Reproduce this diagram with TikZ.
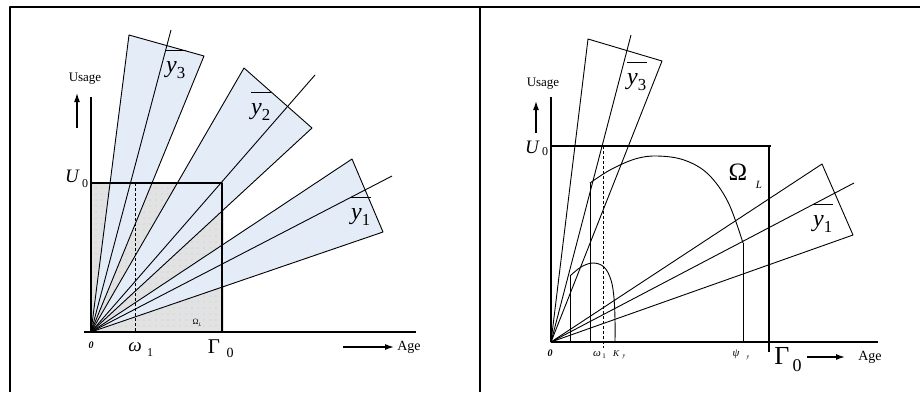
\documentclass[tikz,border=0pt]{standalone}
\usepackage{fontspec}
\setmainfont{Liberation Serif}
\usepackage{amsmath}
\usetikzlibrary{arrows.meta,patterns.meta}
\definecolor{wedgeblue}{HTML}{E4ECF8}
\definecolor{areagray}{HTML}{E2E2E2}
\definecolor{dotblue}{HTML}{B5C9E6}
\newcommand{\fs}[1]{\fontsize{#1}{#1}\selectfont}
\newcommand{\ybarlab}[1]{$\overline{\rule{0pt}{0.78em}\text{\itshape y}_{\text{#1}}}$}
\begin{document}
\begin{tikzpicture}[x=1pt,y=-1pt,line join=round,
  frameline/.style={line width=2pt},
  axisline/.style={line width=1.5pt},
  ray/.style={line width=0.9pt},
  boxline/.style={line width=1.2pt},
  dashline/.style={line width=0.8pt,dash pattern=on 3pt off 2pt},
  lab/.style={inner sep=0pt,anchor=center},
  arr/.style={line width=1.3pt,-{Latex[length=9pt,width=6pt]}},
  wedge/.style={ray,fill=wedgeblue}]
\useasboundingbox (0,0) rectangle (920,392);
% frame
\draw[frameline] (10,392) -- (10,7) -- (920,7);
\draw[frameline] (480,7) -- (480,392);

% ================= left panel =================
\coordinate (OL) at (91,332);
\fill[areagray] (91,183) rectangle (224,332);
\fill[pattern={Dots[distance=6pt,radius=0.6pt]},pattern color=dotblue] (91,183) rectangle (224,332);
\draw[wedge] (OL) -- (129,35) -- (204,56) -- cycle;
\draw[wedge] (OL) -- (244,68) -- (312,128) -- cycle;
\draw[wedge] (OL) -- (352,159) -- (383,232) -- cycle;
\coordinate (c3L) at (171,30);
\coordinate (c2L) at (315,75);
\coordinate (c1L) at (392,176);
\draw[ray] (OL) -- (c3L);
\draw[ray] (OL) -- (c2L);
\draw[ray] (OL) -- (c1L);
\draw[boxline] (91,183) -- (222,183) -- (222,332);
\draw[dashline] (135,183) -- (135,332);
\draw[axisline] (84,332) -- (416,332);
\draw[axisline] (OL) -- (91,97);
\coordinate (upLa) at (77,128); \coordinate (upLb) at (77,93);
\draw[arr] (upLa) -- (upLb);
\coordinate (agLa) at (343,347); \coordinate (agLb) at (394,347);
\draw[arr] (agLa) -- (agLb);

\node[lab] (usageL) at (85,79) {\fs{13}Usage};
\node[lab] (UL) at (72,176) {\fs{19}\itshape U};
\node[lab] (UL0) at (85,184) {\fs{12}0};
\node[lab] (y3L) at (176,64) {\fs{24}\ybarlab{3}};
\node[lab] (y2L) at (261,106) {\fs{24}\ybarlab{2}};
\node[lab] (y1L) at (361,211) {\fs{24}\ybarlab{1}};
\node[lab] (zeroL) at (91,345) {\fs{10}\bfseries\itshape 0};
\node[lab] (omL) at (135,347) {\fs{19}\itshape ω};
\node[lab] (omL1) at (150,353) {\fs{12}1};
\node[lab] (GL) at (214,347) {\fs{21}Γ};
\node[lab] (GL0) at (230,353) {\fs{14}0};
\node[lab] (ageL) at (409,347) {\fs{14}Age};
\node[lab] (OmL) at (197,323) {\fs{8}Ω\raisebox{-1.5pt}{\fs{5}\itshape L}};

% ================= right panel =================
\coordinate (OR) at (551,342);
\draw[ray] (588,39) -- (OR) -- (662,61) -- cycle;
\draw[ray] (OR) -- (631,35);
\draw[ray] (822,164) -- (OR) -- (853,235) -- cycle;
\draw[ray] (OR) -- (854,183);
% big region
\draw[ray] (590,342) -- (590,183);
\draw[ray] plot[smooth,tension=0.6] coordinates {(590,183) (610,170) (635,159) (657,156) (684,160) (708,174) (728,202) (743,243)};
\draw[ray] (743,243) -- (743,342);
% small region
\draw[ray] (570,342) -- (570,276);
\draw[ray] plot[smooth,tension=0.6] coordinates {(570,276) (581,267) (593,263) (604,267) (611,280) (614,298) (615,320) (615,342)};
\draw[boxline] (551,146) -- (771,146);
\draw[boxline] (769,146) -- (769,352);
\draw[dashline] (603,146) -- (603,348);
\draw[axisline] (OR) -- (878,342);
\draw[axisline] (OR) -- (551,97);
\coordinate (upRa) at (536,133); \coordinate (upRb) at (536,101);
\draw[arr] (upRa) -- (upRb);
\coordinate (agRa) at (807,357); \coordinate (agRb) at (845,357);
\draw[arr] (agRa) -- (agRb);

\node[lab] (usageR) at (543,84) {\fs{13}Usage};
\node[lab] (UR) at (532,147) {\fs{19}\itshape U};
\node[lab] (UR0) at (545,152) {\fs{12}0};
\node[lab] (y3R) at (637,76) {\fs{24}\ybarlab{3}};
\node[lab] (y1R) at (823,218) {\fs{24}\ybarlab{1}};
\node[lab] (OmR) at (738,172) {\fs{25}Ω};
\node[lab] (OmRL) at (759,185) {\fs{11}\itshape L};
\node[lab] (zeroR) at (550,353) {\fs{10}\bfseries\itshape 0};
\node[lab] (omR) at (597,354) {\fs{11}\itshape ω};
\node[lab] (omR1) at (604,356) {\fs{7}1};
\node[lab] (KR) at (616,354) {\fs{9}\itshape K};
\node[lab] (KRy) at (624,357) {\fs{6}\itshape y};
\node[lab] (psR) at (736,354) {\fs{11}\itshape ψ};
\node[lab] (psRy) at (748,358) {\fs{6}\itshape y};
\node[lab] (GR) at (782,356) {\fs{26}Γ};
\node[lab] (GR0) at (797,366) {\fs{18}0};
\node[lab] (ageR) at (870,357) {\fs{14}Age};
\end{tikzpicture}
\end{document}
